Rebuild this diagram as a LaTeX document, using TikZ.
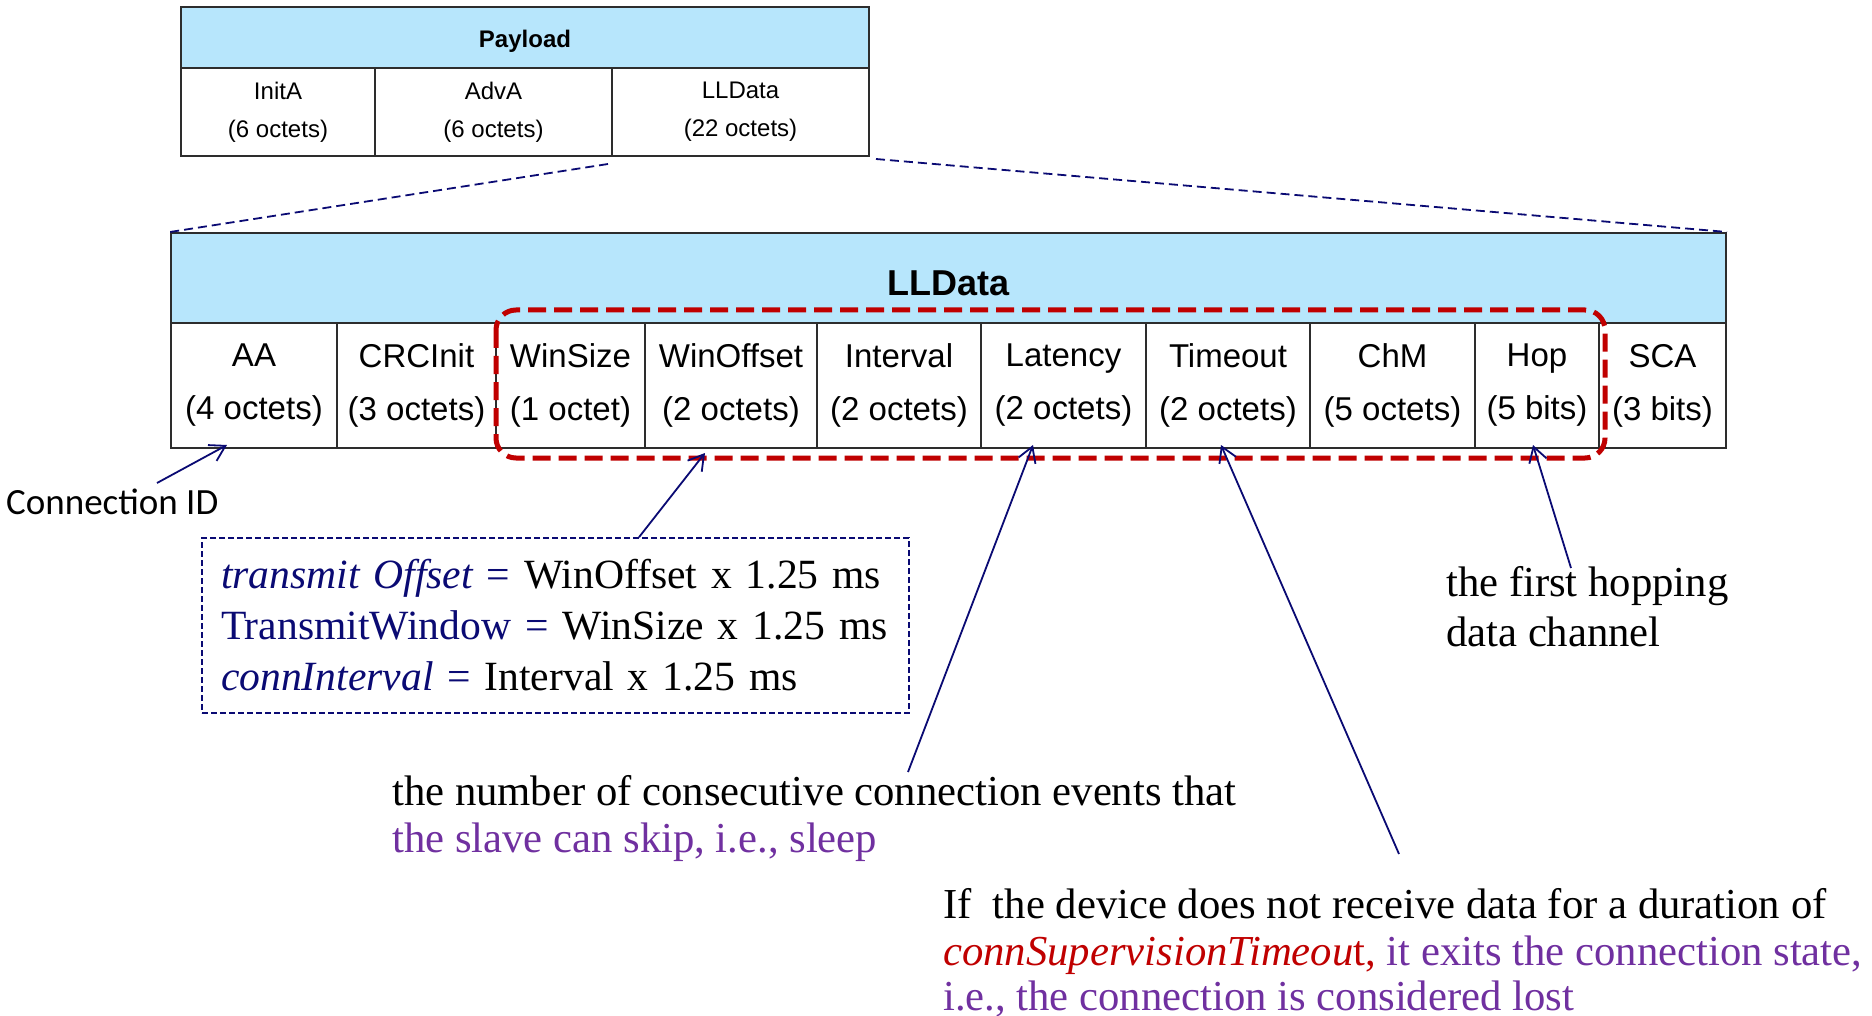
\documentclass[tikz,border=0pt]{standalone}
\usepackage{fontspec}
\setmainfont{Liberation Serif}
\setsansfont{Liberation Sans}
\newfontfamily\calibrifont{Carlito}
\usetikzlibrary{arrows.meta}
\definecolor{hdrblue}{RGB}{183,230,252}
\definecolor{rulegray}{RGB}{45,45,45}
\definecolor{navy}{RGB}{10,10,115}
\definecolor{hilite}{RGB}{192,0,0}
\definecolor{plum}{RGB}{112,48,160}
\frenchspacing
\begin{document}
\begin{tikzpicture}[x=1pt,y=-1pt,
  tbl/.style={draw=rulegray, line width=2pt, inner sep=0pt},
  hdr/.style={tbl, fill=hdrblue, text depth=0pt},
  smallcell/.style={tbl, align=center, minimum height=88,
    font=\sffamily\fontsize{24}{38}\selectfont},
  bigcell/.style={tbl, align=center, minimum height=125,
    font=\sffamily\fontsize{33}{53}\selectfont},
  link/.style={navy, line width=1.8pt, dash pattern=on 9pt off 5pt},
  ptr/.style={navy, line width=1.8pt,
    -{Straight Barb[length=15pt,width=18pt]}},
  hl/.style={hilite, line width=5pt, dash pattern=on 18pt off 8pt,
    rounded corners=20pt},
  note/.style={inner sep=0pt, anchor=base west,
    font=\fontsize{42.7}{50}\selectfont}
]
\useasboundingbox[fill=white] (0,0) rectangle (1872,1016);

% advertising payload
\node[hdr, minimum width=688, minimum height=61, text height=20pt,
  font=\sffamily\bfseries\fontsize{24}{28}\selectfont] (payload) at (525,37.5) {Payload};
\node[smallcell, minimum width=194] (inita)  at (278,112)   {InitA\\(6 octets)};
\node[smallcell, minimum width=237] (adva)   at (493.5,112) {AdvA\\(6 octets)};
\node[smallcell, minimum width=257] (lldata) at (740.5,112) {LLData\\(22 octets)};

% LLData fields
\node[hdr, minimum width=1555, minimum height=90, text height=36pt,
  font=\sffamily\bfseries\fontsize{36}{40}\selectfont] (llhdr) at (948.5,278) {LLData};
\node[bigcell, minimum width=166] (aa)   at (254,385.5)    {AA\\(4 octets)};
\node[bigcell, minimum width=159] (crc)  at (416.5,385.5)  {CRCInit\\(3 octets)};
\node[bigcell, minimum width=149] (wsz)  at (570.5,385.5)  {WinSize\\(1 octet)};
\node[bigcell, minimum width=172] (woff) at (731,385.5)    {WinOffset\\(2 octets)};
\node[bigcell, minimum width=164] (intv) at (899,385.5)    {Interval\\(2 octets)};
\node[bigcell, minimum width=165] (lat)  at (1063.5,385.5) {Latency\\(2 octets)};
\node[bigcell, minimum width=164] (tmo)  at (1228,385.5)   {Timeout\\(2 octets)};
\node[bigcell, minimum width=165] (chm)  at (1392.5,385.5) {ChM\\(5 octets)};
\node[bigcell, minimum width=124] (hop)  at (1537,385.5)   {Hop\\(5 bits)};
\node[bigcell, minimum width=127] (sca)  at (1662.5,385.5) {SCA\\(3 bits)};

% expansion lines
\draw[link] ([shift={(-3,7)}]lldata.south west) -- (llhdr.north west);
\draw[link] ([shift={(6,2)}]lldata.south east) -- (llhdr.north east);

% connection parameters group
\draw[hl] (496,310) rectangle (1605,458);

% timing formulas
\node[draw=navy, line width=1.6pt, dash pattern=on 6pt off 3pt,
  minimum width=707, minimum height=175, text width=669,
  inner xsep=19, inner ysep=0pt, align=left,
  font=\fontsize{41.6}{51}\selectfont] (formula) at (555.5,625.5)
  {\mbox{{\color{navy}\itshape transmit Offset} {\color{navy}=} WinOffset x 1.25 ms}\\
   \mbox{{\color{navy}TransmitWindow =} WinSize x 1.25 ms}\\
   \mbox{{\color{navy}\itshape connInterval} {\color{navy}=} Interval x 1.25 ms}};

% annotations
\node[note, font=\calibrifont\fontsize{37}{40}\selectfont] (connid) at (6,514) {Connection ID};
\node[note] (hop1) at (1446,596) {the first hopping};
\node[note] (hop2) at (1446,646) {data channel};
\node[note] (lat1) at (392,805) {the number of consecutive connection events that};
\node[note, text=plum] (lat2) at (392,852) {the slave can skip, i.e., sleep};
\node[note] (to1) at (943,918) {If\ \ the device does not receive data for a duration of};
\node[note] (to2) at (943,965) {{\color{hilite}\itshape connSupervisionTimeou}{\color{hilite}t,} {\color{plum}it exits the connection state,}};
\node[note, text=plum] (to3) at (943,1010) {i.e., the connection is considered lost};

% pointers
\coordinate (cidFrom) at (157,483);
\coordinate (latFrom) at (908,772);
\coordinate (tmoFrom) at (1399,854);
\coordinate (hopFrom) at (1571,568);
\draw[ptr] (cidFrom) -- ([shift={(-27,-4)}]aa.south);
\draw[ptr] ([xshift=83.5]formula.north) -- ([shift={(-26,4)}]woff.south);
\draw[ptr] (latFrom) -- ([shift={(-30.5,-4)}]lat.south);
\draw[ptr] (tmoFrom) -- ([shift={(-7,-4)}]tmo.south);
\draw[ptr] (hopFrom) -- ([shift={(-4,-4)}]hop.south);
\end{tikzpicture}
\end{document}
